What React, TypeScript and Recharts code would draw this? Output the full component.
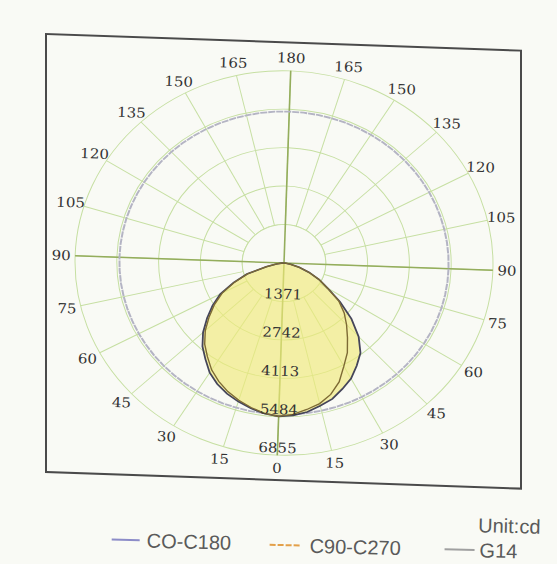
import React from 'react';
import { RadarChart, Radar, PolarGrid, PolarAngleAxis, PolarRadiusAxis } from 'recharts';

// gamma angles (deg from nadir) and intensities in cd
const gamma = [0, 5, 10, 15, 20, 25, 30, 35, 40, 45, 50, 55, 60, 65, 70, 75, 80, 85, 90];
const c0 = [5470, 5440, 5360, 5220, 5090, 4870, 4660, 4360, 4060, 3580, 2970, 2300, 1680, 1290, 890, 520, 220, 60, 0];
const c90 = [5470, 5400, 5270, 5140, 4920, 4600, 4160, 3800, 3370, 3000, 2650, 2250, 1680, 1290, 890, 520, 220, 60, 0];
const c180 = [5470, 5410, 5300, 5170, 5030, 4850, 4620, 4300, 4010, 3640, 3210, 2800, 2370, 1800, 1280, 600, 250, 80, 0];
const c270 = [5470, 5400, 5270, 5120, 4950, 4740, 4500, 4190, 3900, 3540, 3120, 2720, 2300, 1760, 1250, 580, 240, 80, 0];
const g14Level = 5400;
const ringTicks = [0, 1371, 2742, 4113, 5484, 6855];

const W = 557;
const H = 564;
const CX = 284;
const CY = 263;
const R = 209;
const BG = '#f9faf5';
const GRID = '#c6dfa2';

const at = (arr: number[], g: number) => {
  const i = gamma.indexOf(g);
  return i >= 0 ? arr[i] : 0;
};

// 72 spokes clockwise from the bottom: left half is C180/C270 (gamma 0..180), right half C0/C90 (gamma 175..5)
const data = Array.from({ length: 72 }, (_, i) => {
  const c = i * 5;
  const left = c <= 180;
  const g = left ? c : 360 - c;
  return {
    c,
    c0c180: at(left ? c180 : c0, g),
    c90c270: at(left ? c270 : c90, g),
    g14: g14Level,
    hub: ringTicks[1],
  };
});

const spokes = Array.from({ length: 24 }, (_, k) => -90 - k * 15);
const cross = [-90, -180, -270, -360];

const tickFont = { fontFamily: '"DejaVu Serif", serif', fontSize: 15, fill: '#333' };

const AngleTick = (props: any) => {
  const { x, y, payload } = props;
  const c = Number(payload.value);
  if (c % 15 !== 0) return <g />;
  const g = c <= 180 ? c : 360 - c;
  const dx = x - CX;
  const dy = y - CY;
  const d = Math.hypot(dx, dy) || 1;
  return (
    <text x={CX + (dx / d) * 223} y={CY + (dy / d) * 223} textAnchor="middle" dominantBaseline="central" {...tickFont}>
      {g}
    </text>
  );
};

const RingTick = (props: any) => {
  const { x, y, payload } = props;
  if (!payload.value) return <g />;
  return (
    <text x={x} y={y - 8} textAnchor="middle" dominantBaseline="central" {...tickFont}>
      {payload.value}
    </text>
  );
};

const legendText: React.CSSProperties = {
  position: 'absolute',
  fontFamily: '"Liberation Sans", Arial, sans-serif',
  fontSize: 20,
  color: '#5a5a5a',
  lineHeight: '20px',
};

export default function App() {
  return (
    <div style={{ position: 'absolute', left: 0, top: 0, width: W, height: H, background: BG, overflow: 'hidden' }}>
      <div
        style={{
          position: 'absolute', left: 45, top: 33, width: 477, height: 440,
          border: '2px solid #4a4a4a', boxSizing: 'border-box',
          transformOrigin: '0 0', transform: 'skewY(2deg)',
        }}
      />
      <div
        style={{
          position: 'absolute', left: 0, top: 0, width: W, height: H,
          transformOrigin: `${CX}px ${CY}px`, transform: 'rotate(2deg) scaleY(0.92)',
        }}
      >
        <RadarChart width={W} height={H} data={data} cx={CX} cy={CY} outerRadius={R} startAngle={-90} endAngle={-450}>
          <PolarGrid gridType="circle" stroke={GRID} strokeWidth={1} polarAngles={spokes} />
          <Radar dataKey="hub" stroke={GRID} strokeWidth={1} fill={BG} fillOpacity={1} isAnimationActive={false} />
          <PolarGrid gridType="circle" stroke="#94ad5c" strokeWidth={1.6} polarAngles={cross} polarRadius={[]} zIndex={150} />
          <Radar dataKey="g14" stroke="#b4b4c4" strokeWidth={2} strokeDasharray="7 1" fill="none" isAnimationActive={false} zIndex={200} />
          <Radar dataKey="c0c180" stroke="#45455a" strokeWidth={1.8} fill="#efe97a" fillOpacity={0.65} isAnimationActive={false} zIndex={200} />
          <Radar dataKey="c90c270" stroke="#7d6a34" strokeWidth={1.4} fill="none" isAnimationActive={false} zIndex={200} />
          <PolarAngleAxis dataKey="c" tick={AngleTick} tickLine={false} axisLine={false} />
          <PolarRadiusAxis angle={-90} type="number" domain={[0, 6855]} ticks={ringTicks} tick={RingTick} axisLine={false} />
        </RadarChart>
      </div>
      <div
        style={{
          position: 'absolute', left: 0, top: 0, width: W, height: H,
          transformOrigin: `${CX}px ${CY}px`, transform: 'rotate(1.5deg)',
        }}
      >
        <div style={{ ...legendText, left: 485, top: 510 }}>Unit:cd</div>
        <div style={{ position: 'absolute', left: 119, top: 543, width: 28, borderTop: '2px solid #8c8cc8' }} />
        <div style={{ ...legendText, left: 154, top: 534 }}>CO-C180</div>
        <div style={{ position: 'absolute', left: 277, top: 544, width: 30, borderTop: '2px dashed #e3a04a' }} />
        <div style={{ ...legendText, left: 317, top: 535 }}>C90-C270</div>
        <div style={{ position: 'absolute', left: 452, top: 544, width: 30, borderTop: '2px solid #a0a0a0' }} />
        <div style={{ ...legendText, left: 487, top: 535 }}>G14</div>
      </div>
    </div>
  );
}
